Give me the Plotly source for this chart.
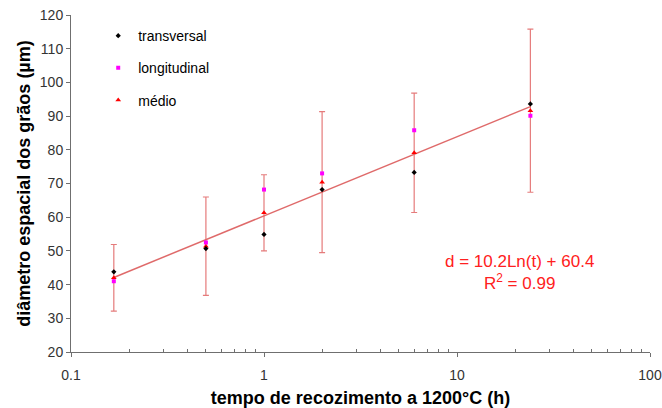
import numpy as np
import plotly.graph_objects as go

# annealing time (h)
tempo = [1/6, 0.5, 1, 2, 6, 24]

# grain spatial diameter (µm)
transversal = [43.8, 50.7, 54.9, 68.2, 73.3, 93.6]
longitudinal = [41.0, 52.5, 68.2, 73.0, 85.8, 90.1]
medio = [42.0, 51.4, 61.3, 70.4, 79.1, 91.6]
medio_erro = [9.9, 14.6, 11.3, 20.9, 17.7, 24.2]

# logarithmic fit: d = a*Ln(t) + b
fit_a, fit_b, fit_r2 = 10.2, 60.4, 0.99

t_fit = np.array([min(tempo), max(tempo)])
d_fit = fit_a * np.log(t_fit) + fit_b

FONT = "Liberation Sans, Arial, sans-serif"
AXIS_COLOR = "#6f6f6f"

fig = go.Figure()

fig.add_trace(go.Scatter(
    x=t_fit, y=d_fit, mode="lines",
    line=dict(color="rgba(220,90,90,0.9)", width=1.5),
    showlegend=False, hoverinfo="skip",
))

fig.add_trace(go.Scatter(
    x=tempo, y=medio, mode="markers", name="médio",
    marker=dict(symbol="triangle-up", size=5, color="#ff0000"),
    error_y=dict(type="data", array=medio_erro, visible=True,
                 color="rgba(225,100,100,0.85)", thickness=1.2, width=3),
    legendgroup="c", legendrank=3,
))
fig.add_trace(go.Scatter(
    x=tempo, y=longitudinal, mode="markers", name="longitudinal",
    marker=dict(symbol="square", size=4, color="#ff00ff"),
    legendgroup="b", legendrank=2,
))
fig.add_trace(go.Scatter(
    x=tempo, y=transversal, mode="markers", name="transversal",
    marker=dict(symbol="diamond", size=4, color="#000000"),
    legendgroup="a", legendrank=1,
))

fig.add_annotation(
    x=0.775, y=0.235, xref="paper", yref="paper", showarrow=False,
    xanchor="center", yanchor="middle",
    text=f"d = {fit_a}Ln(t) + {fit_b}<br>R<sup>2</sup> = {fit_r2}",
    font=dict(family=FONT, size=17, color="#ff2020"), align="center",
)

fig.update_layout(
    width=662, height=408,
    margin=dict(l=71, r=12, t=15, b=56),
    paper_bgcolor="white", plot_bgcolor="white",
    font=dict(family=FONT, color="#000000"),
    legend=dict(
        x=0.047, y=0.985, xanchor="left", yanchor="top",
        bgcolor="rgba(0,0,0,0)", font=dict(family=FONT, size=14, color="#000"),
        traceorder="grouped", tracegroupgap=11,
    ),
    xaxis=dict(
        type="log", range=[-1, 2], automargin=False,
        tickvals=[0.1, 1, 10, 100], ticktext=["0.1", "1", "10", "100"],
        ticklabeloverflow="allow", ticklabelstandoff=6,
        showgrid=False, zeroline=False, showline=True,
        linecolor=AXIS_COLOR, linewidth=1,
        ticks="outside", ticklen=4, tickcolor=AXIS_COLOR,
        minor=dict(ticks="inside", ticklen=3, tickcolor=AXIS_COLOR,
                   tickvals=[m * 10**e for e in (-1, 0, 1) for m in range(2, 10)],
                   showgrid=False),
        tickfont=dict(family=FONT, size=14, color="#333333"),
        title=dict(text="<b>tempo de recozimento a 1200°C (h)</b>",
                   font=dict(family=FONT, size=18, color="#000"), standoff=9),
    ),
    yaxis=dict(
        range=[20, 120], dtick=10, automargin=False,
        showgrid=False, zeroline=False, showline=True,
        linecolor=AXIS_COLOR, linewidth=1,
        ticks="outside", ticklen=4, tickcolor=AXIS_COLOR,
        tickfont=dict(family=FONT, size=14, color="#333333"),
        title=dict(text="<b>diâmetro espacial dos grãos (µm)</b>",
                   font=dict(family=FONT, size=18, color="#000"), standoff=4),
    ),
)

fig.write_html("out.html")
